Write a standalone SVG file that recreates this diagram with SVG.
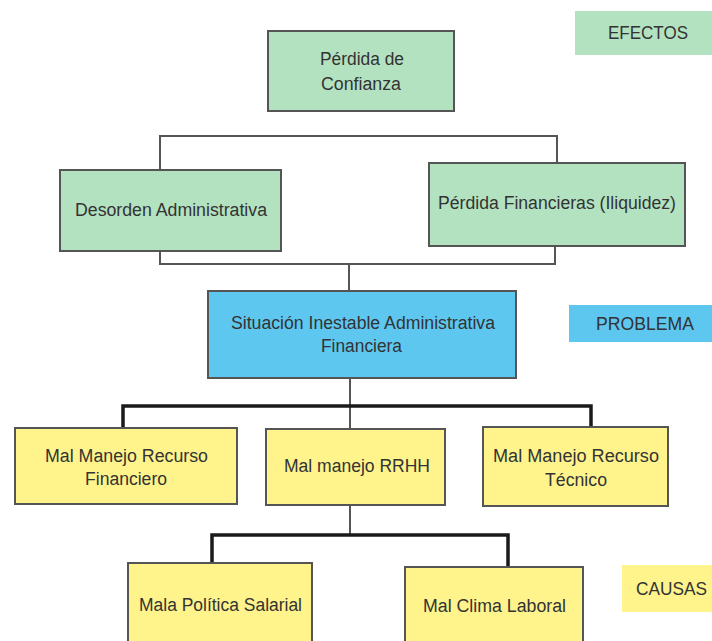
<svg xmlns="http://www.w3.org/2000/svg" width="712" height="641" viewBox="0 0 712 641">
<style>
  text { font-family: "Liberation Sans", Arial, sans-serif; font-size: 18px; fill: #333; }
  .box { stroke: #555; stroke-width: 2; }
  .green { fill: #b3e2c1; }
  .blue { fill: #5ec7f0; }
  .yellow { fill: #fff38c; }
  .thin { fill: none; stroke: #555; stroke-width: 2; }
  .thick { fill: none; stroke: #1a1a1a; stroke-width: 3.5; }
</style>
<rect width="712" height="641" fill="#ffffff"/>

<g id="connectors">
  <polyline class="thin" points="160,170 160,136 557,136 557,163"/>
  <polyline class="thin" points="160,251 160,264 555,264 555,246"/>
  <line class="thin" x1="349" y1="264" x2="349" y2="291"/>
  <line class="thin" x1="350" y1="378" x2="350" y2="429"/>
  <polyline class="thick" points="123,428 123,406 591,406 591,427"/>
  <line class="thin" x1="350" y1="505" x2="350" y2="535"/>
  <polyline class="thick" points="212,563 212,535 508,535 508,567"/>
</g>

<g id="legend-efectos">
  <rect class="green" x="575" y="11" width="140" height="44"/>
  <text x="608" y="39" textLength="80" lengthAdjust="spacingAndGlyphs">EFECTOS</text>
</g>
<g id="legend-problema">
  <rect class="blue" x="569" y="305" width="146" height="37"/>
  <text x="596" y="330" textLength="98" lengthAdjust="spacingAndGlyphs">PROBLEMA</text>
</g>
<g id="legend-causas">
  <rect class="yellow" x="622" y="565" width="93" height="47"/>
  <text x="636" y="595" textLength="71" lengthAdjust="spacingAndGlyphs">CAUSAS</text>
</g>

<g id="perdida-confianza">
  <rect class="box green" x="268" y="31" width="186" height="80"/>
  <text x="320" y="65" textLength="84" lengthAdjust="spacingAndGlyphs">Pérdida de</text>
  <text x="321" y="90" textLength="80" lengthAdjust="spacingAndGlyphs">Confianza</text>
</g>
<g id="desorden-administrativa">
  <rect class="box green" x="60" y="170" width="221" height="81"/>
  <text x="75" y="216" textLength="192" lengthAdjust="spacingAndGlyphs">Desorden Administrativa</text>
</g>
<g id="perdida-financieras">
  <rect class="box green" x="429" y="163" width="256" height="83"/>
  <text x="438" y="209" textLength="238" lengthAdjust="spacingAndGlyphs">Pérdida Financieras (Iliquidez)</text>
</g>

<g id="situacion-inestable">
  <rect class="box blue" x="208" y="291" width="308" height="87"/>
  <text x="231" y="329" textLength="264" lengthAdjust="spacingAndGlyphs">Situación Inestable Administrativa</text>
  <text x="321" y="352" textLength="81" lengthAdjust="spacingAndGlyphs">Financiera</text>
</g>

<g id="recurso-financiero">
  <rect class="box yellow" x="15" y="428" width="222" height="76"/>
  <text x="45" y="462" textLength="163" lengthAdjust="spacingAndGlyphs">Mal Manejo Recurso</text>
  <text x="85" y="485" textLength="82" lengthAdjust="spacingAndGlyphs">Financiero</text>
</g>
<g id="manejo-rrhh">
  <rect class="box yellow" x="266" y="429" width="179" height="76"/>
  <text x="284" y="472" textLength="146" lengthAdjust="spacingAndGlyphs">Mal manejo RRHH</text>
</g>
<g id="recurso-tecnico">
  <rect class="box yellow" x="483" y="427" width="185" height="79"/>
  <text x="493" y="462" textLength="166" lengthAdjust="spacingAndGlyphs">Mal Manejo  Recurso</text>
  <text x="545" y="486" textLength="62" lengthAdjust="spacingAndGlyphs">Técnico</text>
</g>

<g id="politica-salarial">
  <rect class="box yellow" x="128" y="563" width="184" height="90"/>
  <text x="139" y="611" textLength="163" lengthAdjust="spacingAndGlyphs">Mala Política Salarial</text>
</g>
<g id="clima-laboral">
  <rect class="box yellow" x="405" y="567" width="178" height="90"/>
  <text x="423" y="612" textLength="143" lengthAdjust="spacingAndGlyphs">Mal Clima Laboral</text>
</g>
</svg>
